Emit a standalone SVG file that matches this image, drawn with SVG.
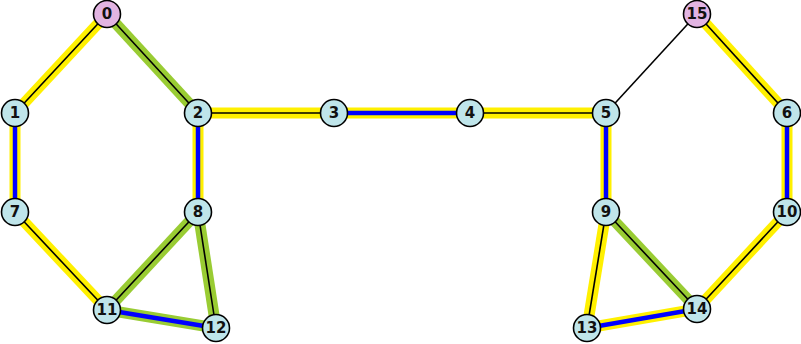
<svg xmlns="http://www.w3.org/2000/svg" width="801" height="344" viewBox="0 0 801 344">
<style>
.y{stroke:#fff000;stroke-width:11;fill:none}
.g{stroke:#99cc33;stroke-width:11;fill:none}
.k{stroke:#000;stroke-width:1.6;fill:none}
.b{stroke:#0000ff;stroke-width:4.5;fill:none}
.n circle{fill:#bfe5ea;stroke:#000;stroke-width:1.6}
.p circle{fill:#e2b4e2;stroke:#000;stroke-width:1.6}
text{font-family:"DejaVu Sans",sans-serif;font-weight:bold;font-size:15px;text-anchor:middle;dominant-baseline:central;fill:#111}
</style>
<rect width="801" height="344" fill="#fff"/>
<g id="connectors">
<line class="y" x1="107" y1="14" x2="15" y2="113"/><line class="k" x1="107" y1="14" x2="15" y2="113"/>
<line class="g" x1="107" y1="14" x2="198" y2="113"/><line class="k" x1="107" y1="14" x2="198" y2="113"/>
<line class="y" x1="15" y1="113" x2="15" y2="212"/><line class="b" x1="15" y1="113" x2="15" y2="212"/>
<line class="y" x1="198" y1="113" x2="334" y2="113"/><line class="k" x1="198" y1="113" x2="334" y2="113"/>
<line class="y" x1="334" y1="113" x2="470" y2="113"/><line class="b" x1="334" y1="113" x2="470" y2="113"/>
<line class="y" x1="470" y1="113" x2="606" y2="113"/><line class="k" x1="470" y1="113" x2="606" y2="113"/>
<line class="y" x1="198" y1="113" x2="198" y2="212"/><line class="b" x1="198" y1="113" x2="198" y2="212"/>
<line class="y" x1="606" y1="113" x2="606" y2="212"/><line class="b" x1="606" y1="113" x2="606" y2="212"/>
<line class="k" x1="606" y1="113" x2="697" y2="14"/>
<line class="y" x1="697" y1="14" x2="787" y2="113"/><line class="k" x1="697" y1="14" x2="787" y2="113"/>
<line class="y" x1="787" y1="113" x2="787" y2="212"/><line class="b" x1="787" y1="113" x2="787" y2="212"/>
<line class="y" x1="787" y1="212" x2="697" y2="309"/><line class="k" x1="787" y1="212" x2="697" y2="309"/>
<line class="y" x1="15" y1="212" x2="107" y2="310"/><line class="k" x1="15" y1="212" x2="107" y2="310"/>
<line class="g" x1="198" y1="212" x2="107" y2="310"/><line class="k" x1="198" y1="212" x2="107" y2="310"/>
<line class="g" x1="198" y1="212" x2="216" y2="328"/><line class="k" x1="198" y1="212" x2="216" y2="328"/>
<line class="g" x1="107" y1="310" x2="216" y2="328"/><line class="b" x1="107" y1="310" x2="216" y2="328"/>
<line class="y" x1="606" y1="212" x2="587" y2="328"/><line class="k" x1="606" y1="212" x2="587" y2="328"/>
<line class="g" x1="606" y1="212" x2="697" y2="309"/><line class="k" x1="606" y1="212" x2="697" y2="309"/>
<line class="y" x1="587" y1="328" x2="697" y2="309"/><line class="b" x1="587" y1="328" x2="697" y2="309"/>
</g>
<g id="n0" class="p"><circle cx="107" cy="14" r="13.5"/><text x="107" y="14">0</text></g>
<g id="n1" class="n"><circle cx="15" cy="113" r="13.5"/><text x="15" y="113">1</text></g>
<g id="n2" class="n"><circle cx="198" cy="113" r="13.5"/><text x="198" y="113">2</text></g>
<g id="n3" class="n"><circle cx="334" cy="113" r="13.5"/><text x="334" y="113">3</text></g>
<g id="n4" class="n"><circle cx="470" cy="113" r="13.5"/><text x="470" y="113">4</text></g>
<g id="n5" class="n"><circle cx="606" cy="113" r="13.5"/><text x="606" y="113">5</text></g>
<g id="n6" class="n"><circle cx="787" cy="113" r="13.5"/><text x="787" y="113">6</text></g>
<g id="n7" class="n"><circle cx="15" cy="212" r="13.5"/><text x="15" y="212">7</text></g>
<g id="n8" class="n"><circle cx="198" cy="212" r="13.5"/><text x="198" y="212">8</text></g>
<g id="n9" class="n"><circle cx="606" cy="212" r="13.5"/><text x="606" y="212">9</text></g>
<g id="n10" class="n"><circle cx="787" cy="212" r="13.5"/><text x="787" y="212">10</text></g>
<g id="n11" class="n"><circle cx="107" cy="310" r="13.5"/><text x="107" y="310">11</text></g>
<g id="n12" class="n"><circle cx="216" cy="328" r="13.5"/><text x="216" y="328">12</text></g>
<g id="n13" class="n"><circle cx="587" cy="328" r="13.5"/><text x="587" y="328">13</text></g>
<g id="n14" class="n"><circle cx="697" cy="309" r="13.5"/><text x="697" y="309">14</text></g>
<g id="n15" class="p"><circle cx="697" cy="14" r="13.5"/><text x="697" y="14">15</text></g>
</svg>
